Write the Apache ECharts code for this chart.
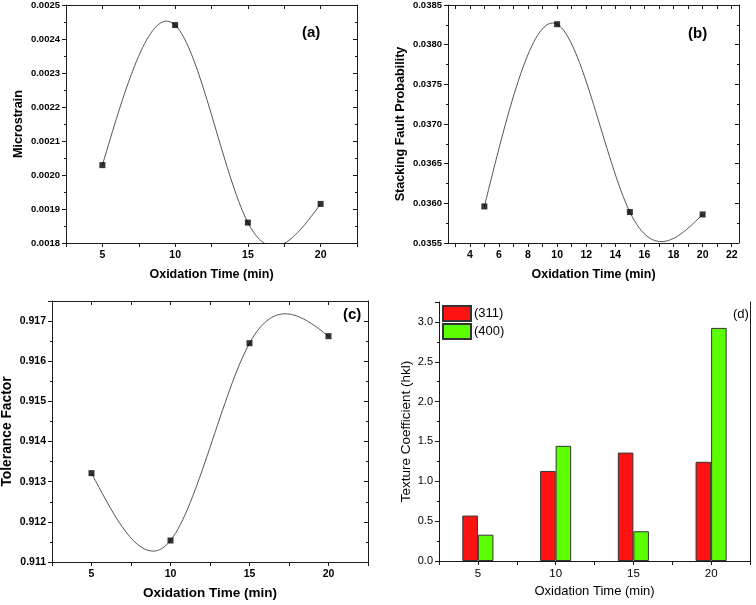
<!DOCTYPE html>
<html>
<head>
<meta charset="utf-8">
<script src="https://cdn.jsdelivr.net/npm/echarts@6/dist/echarts.min.js"></script>
<style>html,body{margin:0;padding:0;background:#fff}#c{width:756px;height:605px}</style>
</head>
<body>
<div id="c"></div>
<script>
// ---- data ----
const timeX = [5, 10, 15, 20];
const microstrain = [0.002029, 0.002441, 0.001860, 0.001915];
const stackingFault = [0.035961, 0.038258, 0.035890, 0.035860];
const tolerance = [0.913213, 0.911535, 0.916449, 0.916624];
const tc311 = [0.57, 1.13, 1.36, 1.245];
const tc400 = [0.33, 1.445, 0.373, 2.925];
const xLabelsB = [4, 6, 8, 10, 12, 14, 16, 18, 20, 22];
const xTicksB = [3, 4, 5, 6, 7, 8, 9, 10, 11, 12, 13, 14, 15, 16, 17, 18, 19, 20, 21, 22];
const legendNames = ['(311)', '(400)'];

const FF = 'Liberation Sans';
const AX = '#1a1a1a';

function pts(ys) { return timeX.map((x, i) => [x, ys[i]]); }

function xPair(grid, bold, fs, extra, mirrorTicks) {
  const base = {
    type: 'value', gridIndex: grid, min: 2.5, max: 22.5, interval: 2.5,
    splitLine: { show: false },
    axisLine: { lineStyle: { color: AX, width: 1 } }
  };
  const bottom = Object.assign({}, base, {
    position: 'bottom',
    axisTick: { show: true, length: 4, lineStyle: { color: AX } },
    axisLabel: {
      show: true, margin: 7, color: '#000', fontFamily: FF, fontSize: fs,
      fontWeight: bold ? 'bold' : 'normal',
      formatter: v => (Math.abs(v % 5) < 1e-9 ? String(v) : '')
    },
    name: 'Oxidation Time (min)', nameLocation: 'middle', nameGap: 25,
    nameTextStyle: { color: '#000', fontFamily: FF, fontWeight: bold ? 'bold' : 'normal', fontSize: 13 }
  }, extra || {});
  const top = Object.assign({}, base, {
    position: 'top',
    axisTick: { show: mirrorTicks, inside: true, length: 4, lineStyle: { color: AX } },
    axisLabel: { show: false }
  });
  if (extra && extra.axisTick && mirrorTicks) top.axisTick = Object.assign({}, extra.axisTick, { inside: true });
  return [bottom, top];
}

function yPair(grid, min, max, interval, digits, name, nameGap, bold, fs, titleFs, mirrorTicks) {
  const base = {
    type: 'value', gridIndex: grid, min: min, max: max, interval: interval,
    splitLine: { show: false },
    axisLine: { lineStyle: { color: AX, width: 1 } }
  };
  const left = Object.assign({}, base, {
    position: 'left',
    axisTick: { show: true, length: 4, lineStyle: { color: AX } },
    minorTick: { show: true, splitNumber: 2, length: 2, lineStyle: { color: AX } },
    axisLabel: {
      show: true, margin: 6, color: '#000', fontFamily: FF, fontSize: fs,
      fontWeight: bold ? 'bold' : 'normal', showMaxLabel: false,
      formatter: v => v.toFixed(digits)
    },
    name: name, nameLocation: 'middle', nameGap: nameGap,
    nameTextStyle: { color: '#000', fontFamily: FF, fontWeight: bold ? 'bold' : 'normal', fontSize: titleFs }
  });
  const right = Object.assign({}, base, {
    position: 'right',
    axisTick: { show: mirrorTicks, inside: true, length: 4, lineStyle: { color: AX } },
    minorTick: { show: mirrorTicks, splitNumber: 2, length: 2, lineStyle: { color: AX } },
    axisLabel: { show: false }
  });
  return [left, right];
}

const xAxes = [].concat(
  xPair(0, true, 10.5, { nameTextStyle: { color: '#000', fontFamily: FF, fontWeight: 'bold', fontSize: 12.5 } }, true),
  xPair(1, true, 10.5, {
    axisTick: { show: true, length: 4, customValues: xTicksB, lineStyle: { color: AX } },
    axisLabel: { show: true, margin: 7, color: '#000', fontFamily: FF, fontSize: 10.5, fontWeight: 'bold', customValues: xLabelsB },
    nameTextStyle: { color: '#000', fontFamily: FF, fontWeight: 'bold', fontSize: 12.5 }
  }, true),
  xPair(2, true, 10.5, { nameGap: 24, nameTextStyle: { color: '#000', fontFamily: FF, fontWeight: 'bold', fontSize: 13.5 } }, true),
  xPair(3, false, 11.5, { nameGap: 24, nameTextStyle: { color: '#000', fontFamily: FF, fontWeight: 'normal', fontSize: 13 } }, false)
);

const yAxes = [].concat(
  yPair(0, 0.0018, 0.0025, 0.0001, 4, 'Microstrain', 41, true, 9.5, 12.6, true),
  yPair(1, 0.0355, 0.0385, 0.0005, 4, 'Stacking Fault Probability', 41, true, 9.5, 12.6, true),
  yPair(2, 0.911, 0.9175, 0.001, 3, 'Tolerance Factor', 38, true, 10.5, 13.8, true),
  yPair(3, 0, 3.25, 0.5, 1, 'Texture Coefficient (hkl)', 26, false, 11, 13.5, false)
);
// top labels at the exact max of (a) and (b) are real ticks; keep them
yAxes[0].axisLabel.showMaxLabel = true;
yAxes[2].axisLabel.showMaxLabel = true;

// Natural cubic spline drawn as bezier segments (rendering of the connecting curve)
function splineSlopes(xs, ys) {
  const n = xs.length, h = [], M = new Array(n).fill(0);
  for (let i = 0; i < n - 1; i++) h.push(xs[i + 1] - xs[i]);
  const a = [], b = [], c = [], d = [];
  for (let i = 1; i < n - 1; i++) {
    a.push(h[i - 1]); b.push(2 * (h[i - 1] + h[i])); c.push(h[i]);
    d.push(6 * ((ys[i + 1] - ys[i]) / h[i] - (ys[i] - ys[i - 1]) / h[i - 1]));
  }
  const m = b.length;
  for (let i = 1; i < m; i++) { const w = a[i] / b[i - 1]; b[i] -= w * c[i - 1]; d[i] -= w * d[i - 1]; }
  const sol = new Array(m);
  for (let i = m - 1; i >= 0; i--) sol[i] = (d[i] - (i < m - 1 ? c[i] * sol[i + 1] : 0)) / b[i];
  for (let i = 0; i < m; i++) M[i + 1] = sol[i];
  const s = [];
  for (let i = 0; i < n - 1; i++) s.push((ys[i + 1] - ys[i]) / h[i] - h[i] * (2 * M[i] + M[i + 1]) / 6);
  s.push((ys[n - 1] - ys[n - 2]) / h[n - 2] + h[n - 2] * (2 * M[n - 1] + M[n - 2]) / 6);
  return s;
}

function curveSeries(xi, yi, ys) {
  const xs = timeX, sl = splineSlopes(xs, ys), n = xs.length;
  return {
    type: 'custom', xAxisIndex: xi, yAxisIndex: yi, data: pts(ys), silent: true, z: 2,
    renderItem: function (params, api) {
      const i = params.dataIndex;
      if (i >= n - 1) return { type: 'group', children: [] };
      const h = xs[i + 1] - xs[i];
      const p0 = api.coord([xs[i], ys[i]]);
      const c1 = api.coord([xs[i] + h / 3, ys[i] + sl[i] * h / 3]);
      const c2 = api.coord([xs[i + 1] - h / 3, ys[i + 1] - sl[i + 1] * h / 3]);
      const p3 = api.coord([xs[i + 1], ys[i + 1]]);
      const cs = params.coordSys;
      return {
        type: 'bezierCurve',
        shape: { x1: p0[0], y1: p0[1], cpx1: c1[0], cpy1: c1[1], cpx2: c2[0], cpy2: c2[1], x2: p3[0], y2: p3[1] },
        style: { stroke: '#555', lineWidth: 1, fill: 'none' },
        clipPath: { type: 'rect', shape: { x: cs.x, y: cs.y, width: cs.width, height: cs.height } }
      };
    }
  };
}

function markerSeries(xi, yi, ys) {
  return {
    type: 'scatter', xAxisIndex: xi, yAxisIndex: yi, data: pts(ys),
    symbol: 'rect', symbolSize: 6, itemStyle: { color: '#000' }, z: 3, silent: true
  };
}

const option = {
  animation: false,
  backgroundColor: '#fff',
  grid: [
    { left: 66, top: 5, width: 291, height: 238, containLabel: false, outerBoundsMode: 'none' },
    { left: 448, top: 5, width: 291, height: 238, containLabel: false, outerBoundsMode: 'none' },
    { left: 52, top: 301, width: 316, height: 261, containLabel: false, outerBoundsMode: 'none' },
    { left: 439, top: 302, width: 311, height: 259, containLabel: false, outerBoundsMode: 'none' }
  ],
  xAxis: xAxes,
  yAxis: yAxes,
  legend: {
    data: legendNames, orient: 'vertical', left: 442, top: 305, itemGap: 1,
    itemWidth: 28, itemHeight: 15, icon: 'rect',
    textStyle: { color: '#000', fontFamily: FF, fontSize: 13, padding: [0, 0, 0, -2] },
    padding: 0
  },
  graphic: [
    { type: 'text', left: 302, top: 25, style: { text: '(a)', font: 'bold 15px "Liberation Sans"', fill: '#000' } },
    { type: 'text', left: 688, top: 26, style: { text: '(b)', font: 'bold 15px "Liberation Sans"', fill: '#000' } },
    { type: 'text', left: 343, top: 307, style: { text: '(c)', font: 'bold 15px "Liberation Sans"', fill: '#000' } },
    { type: 'text', left: 733, top: 308, style: { text: '(d)', font: '13px "Liberation Sans"', fill: '#000' } }
  ],
  series: [
    curveSeries(0, 0, microstrain),
    markerSeries(0, 0, microstrain),
    curveSeries(2, 2, stackingFault),
    markerSeries(2, 2, stackingFault),
    curveSeries(4, 4, tolerance),
    markerSeries(4, 4, tolerance),
    {
      name: legendNames[0], type: 'bar', xAxisIndex: 6, yAxisIndex: 6, data: pts(tc311),
      barWidth: '20%', barGap: '0%',
      itemStyle: { color: '#ff1212', borderColor: '#333', borderWidth: 1 }
    },
    {
      name: legendNames[1], type: 'bar', xAxisIndex: 6, yAxisIndex: 6, data: pts(tc400),
      barWidth: '20%', barGap: '0%',
      itemStyle: { color: '#5cff00', borderColor: '#333', borderWidth: 1 }
    }
  ]
};

const chart = echarts.init(document.getElementById('c'), null, { renderer: 'canvas' });
chart.setOption(option);
</script>
</body>
</html>
